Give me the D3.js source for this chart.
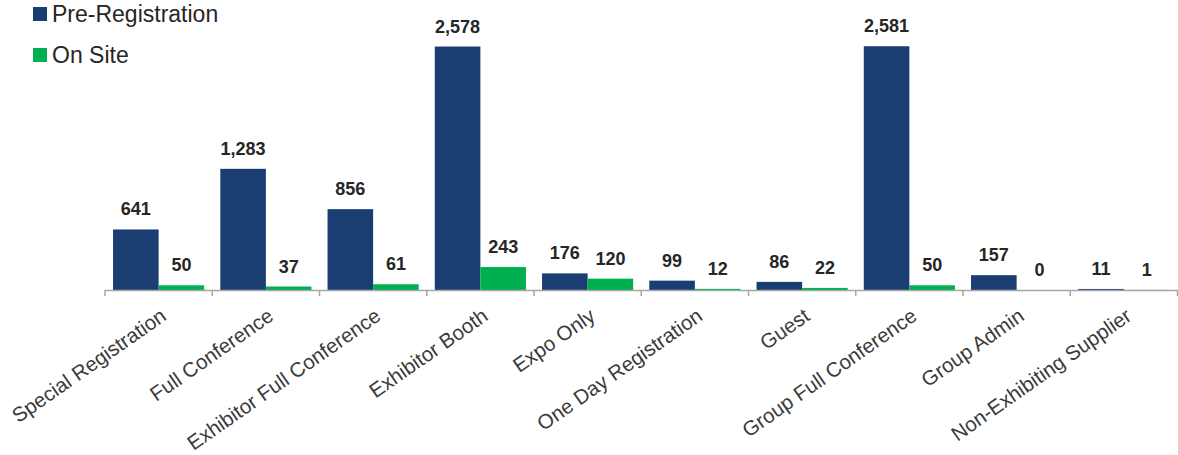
<!DOCTYPE html>
<html>
<head>
<meta charset="utf-8">
<script src="https://cdn.jsdelivr.net/npm/d3@7.9.0/dist/d3.min.js"></script>
<style>
  body { margin: 0; background: #fff; }
  svg { display: block; font-family: "Liberation Sans", Arial, sans-serif; }
</style>
</head>
<body>
<svg width="1178" height="455"></svg>
<script>
// Registration types (x categories)
const categories = [
  'Special Registration', 'Full Conference', 'Exhibitor Full Conference',
  'Exhibitor Booth', 'Expo Only', 'One Day Registration', 'Guest',
  'Group Full Conference', 'Group Admin', 'Non-Exhibiting Supplier'
];
const seriesNames = ['Pre-Registration', 'On Site'];
const preRegistration = [641, 1283, 856, 2578, 176, 99, 86, 2581, 157, 11];
const onSite = [50, 37, 61, 243, 120, 12, 22, 50, 0, 1];
const colors = ['#1b3e72', '#00b04f'];

const svg = d3.select('svg');

const x = d3.scaleBand()
  .domain(categories)
  .range([105, 1177.5])
  .paddingInner(0.15)
  .paddingOuter(0.075);

const sub = d3.scaleBand()
  .domain(seriesNames)
  .range([0, x.bandwidth()]);

const y = d3.scaleLinear().domain([0, 2700]).range([290, 35]);

const rows = categories.map((c, i) => ({
  cat: c,
  values: [preRegistration[i], onSite[i]]
}));

// Bars
const groups = svg.selectAll('g.grp')
  .data(rows)
  .join('g')
  .attr('class', 'grp')
  .attr('transform', (d) => `translate(${x(d.cat)},0)`);

groups.selectAll('rect')
  .data((d) => d.values.map((v, k) => ({ v, k })))
  .join('rect')
  .attr('x', (d) => sub(seriesNames[d.k]))
  .attr('width', sub.bandwidth())
  .attr('y', (d) => y(d.v))
  .attr('height', (d) => y(0) - y(d.v))
  .attr('fill', (d) => colors[d.k]);

// Value labels
groups.selectAll('text')
  .data((d) => d.values.map((v, k) => ({ v, k })))
  .join('text')
  .attr('x', (d) => sub(seriesNames[d.k]) + sub.bandwidth() / 2)
  .attr('y', (d) => y(d.v) - 14)
  .attr('text-anchor', 'middle')
  .attr('font-size', 18)
  .attr('font-weight', 'bold')
  .attr('fill', '#262626')
  .text((d) => d3.format(',')(d.v));

// Axis line with ticks between categories
const axisG = svg.append('g');
axisG.append('line')
  .attr('x1', 105).attr('x2', 1178)
  .attr('y1', 290.5).attr('y2', 290.5)
  .attr('stroke', '#a6a6a6')
  .attr('stroke-width', 1.5);

const step = x.step();
const edges = d3.range(categories.length + 1).map((i) => 105 + i * step);
axisG.selectAll('line.tick')
  .data(edges)
  .join('line')
  .attr('class', 'tick')
  .attr('x1', (d) => d).attr('x2', (d) => d)
  .attr('y1', 290).attr('y2', 296)
  .attr('stroke', '#a6a6a6')
  .attr('stroke-width', 1.5);

// Rotated category labels
svg.selectAll('text.cat')
  .data(categories)
  .join('text')
  .attr('class', 'cat')
  .attr('text-anchor', 'end')
  .attr('font-size', 20.5)
  .attr('fill', '#3a3a3a')
  .attr('transform', (d) => `translate(${x(d) + x.bandwidth() / 2 + 9},319) rotate(-35)`)
  .text((d) => d);

// Legend
const legend = svg.append('g');
seriesNames.forEach((name, i) => {
  const ly = 7 + i * 41;
  legend.append('rect')
    .attr('x', 33).attr('y', ly)
    .attr('width', 14).attr('height', 14)
    .attr('fill', colors[i]);
  legend.append('text')
    .attr('x', 52).attr('y', ly + 15)
    .attr('font-size', 23)
    .attr('fill', '#262626')
    .text(name);
});
</script>
</body>
</html>
